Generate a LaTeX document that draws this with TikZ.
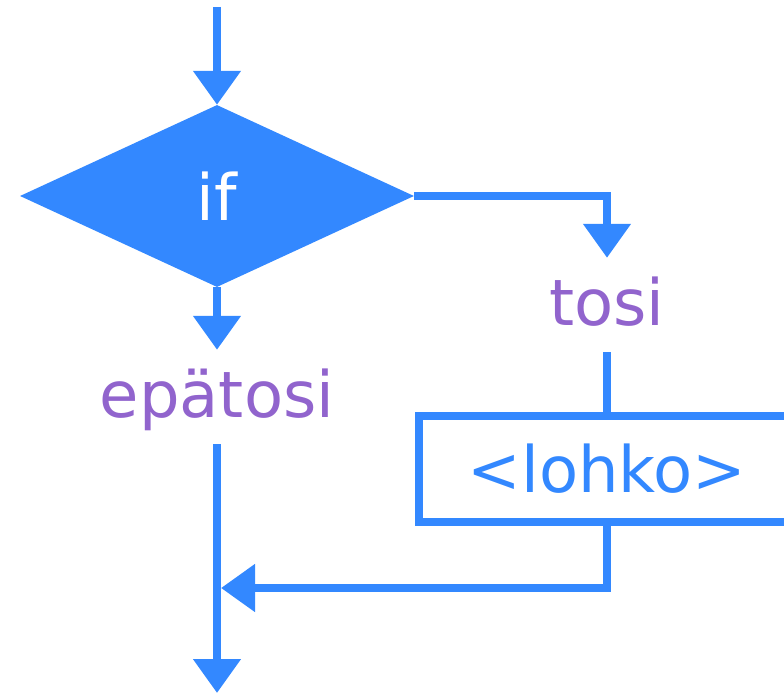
\documentclass[tikz,border=0pt]{standalone}
\usepackage{fontspec}
\setmainfont{DejaVu Sans}
\usetikzlibrary{shapes.geometric,arrows.meta}
\definecolor{flowblue}{RGB}{51,136,255}
\definecolor{flowpurple}{RGB}{145,100,205}
\begin{document}
\begin{tikzpicture}[x=1pt,y=-1pt,
  every node/.style={font=\fontsize{64pt}{70pt}\selectfont},
  flowline/.style={draw=flowblue,line width=8pt},
  flowarrow/.style={flowline,-{Triangle[width=46pt,length=34pt]}},
  label/.style={text=flowpurple,inner sep=0pt,text height=67pt,text depth=27pt,anchor=base},
  decision/.style={diamond,fill=flowblue,text=white,inner sep=0pt,minimum width=394pt,minimum height=182pt},
  blockbox/.style={draw=flowblue,line width=8pt,text=flowblue,inner sep=0pt,minimum width=376pt,minimum height=106pt}]
\useasboundingbox (0,0) rectangle (784,695);
\clip (0,0) rectangle (784,695);
\node[decision] (if) at (217,196) {if};
\node[label] (tosi) at (607,325) {tosi};
\node[label] (epatosi) at (217,417) {epätosi};
\node[blockbox] (lohko) at (607,469) {<lohko>};
\coordinate (start) at (217,7);
\coordinate (merge) at (221,588);
\coordinate (end) at (217,693);
\draw[flowarrow] (start) -- (if.north);
\draw[flowarrow] (if.east) -| (tosi.north);
\draw[flowline] (tosi.south) -- (lohko.north);
\draw[flowarrow] (lohko.south) |- (merge);
\draw[flowarrow] (if.south) -- (epatosi.north);
\draw[flowarrow] (epatosi.south) -- (end);
\end{tikzpicture}
\end{document}
